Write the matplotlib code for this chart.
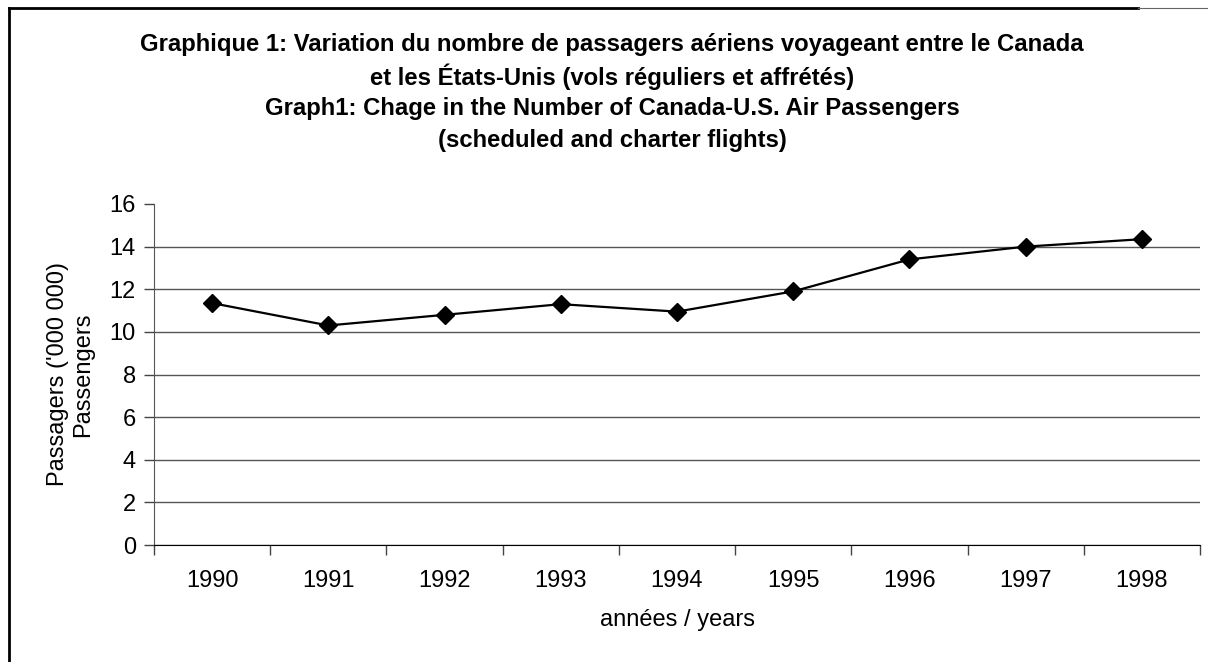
import matplotlib
matplotlib.use('Agg')
import numpy as np
from matplotlib import pyplot as plt
from matplotlib.lines import Line2D

plt.rcParams['font.family'] = ['Liberation Sans', 'DejaVu Sans']

years = ['1990', '1991', '1992', '1993', '1994', '1995', '1996', '1997', '1998']
passengers = [11.35, 10.3, 10.8, 11.3, 10.95, 11.9, 13.4, 14.0, 14.35]
y_ticks = [0, 2, 4, 6, 8, 10, 12, 14, 16]

title_lines = ["Graphique 1: Variation du nombre de passagers aériens voyageant entre le Canada",
               "et les États-Unis (vols réguliers et affrétés)",
               "Graph1: Chage in the Number of Canada-U.S. Air Passengers",
               "(scheduled and charter flights)"]
title_y = [45, 77, 109, 141]  # pixel centres of each title line

W, H = 1208, 662
fig = plt.figure(figsize=(W / 100, H / 100), dpi=100)
ax = fig.add_axes([154 / W, 1 - 545 / H, (1200 - 154) / W, (545 - 204) / H])

x = np.arange(len(years))
ax.plot(x, passengers, color='black', lw=1.6, marker='D', ms=9, mfc='black', mec='black')

ax.set_xlim(-0.5, len(years) - 0.5)
ax.set_ylim(0, 16)
ax.set_yticks(y_ticks)
ax.set_xticks(x)
ax.set_xticklabels(years)
ax.set_xticks(np.arange(-0.5, len(years)), minor=True)
ax.tick_params(axis='x', which='major', length=0, pad=18, labelsize=17)
ax.tick_params(axis='x', which='minor', length=7, width=1, direction='out', color='#444444')
ax.tick_params(axis='y', length=7, width=1, color='#444444', labelsize=17, pad=6)

ax.grid(axis='y', color='#555555', lw=1)
ax.yaxis.get_gridlines()[-1].set_visible(False)
ax.set_axisbelow(True)

for s in ['top', 'right']:
    ax.spines[s].set_visible(False)
ax.spines['left'].set_color('#555555')
ax.spines['bottom'].set_color('black')

ax.set_xlabel('années / years', fontsize=17, labelpad=12)
ax.set_ylabel("Passagers ('000 000)\nPassengers", fontsize=17, labelpad=11, linespacing=1.2)

for line, yp in zip(title_lines, title_y):
    fig.text(612 / W, 1 - yp / H, line, ha='center', va='center', fontsize=17.2,
             fontweight='bold')

# outer frame (top and left only)
fig.add_artist(Line2D([9 / W, 1138 / W], [1 - 8 / H, 1 - 8 / H], color='black', lw=2))
fig.add_artist(Line2D([1138 / W, 1.0], [1 - 8 / H, 1 - 8 / H], color='#666666', lw=0.8))
fig.add_artist(Line2D([9 / W, 9 / W], [1 - 8 / H, 0], color='black', lw=2))

fig.savefig('out.png', dpi=100)
